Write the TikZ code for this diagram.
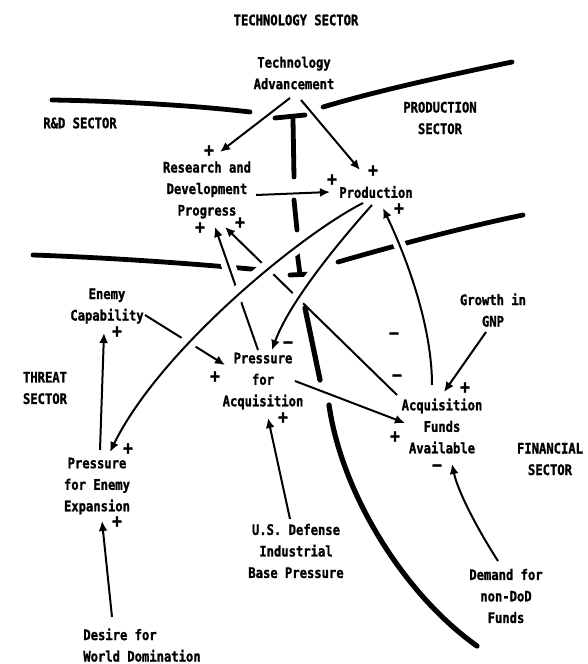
\documentclass[tikz,border=0pt]{standalone}
\usepackage{fontspec}
\newfontfamily\dotfont{DejaVu Sans Mono Bold}[FakeStretch=0.84, FakeBold=1.2]
\usetikzlibrary{arrows.meta,calc}
\tikzset{
  lbl/.style={font=\dotfont\fontsize{14.5}{21.5}\selectfont, align=center, inner sep=0pt},
  sgn/.style={font=\dotfont\fontsize{19}{20}\selectfont, inner sep=0pt},
  link/.style={line width=2pt, -{Latex[length=10pt,width=9pt]}},
  border/.style={line width=4.8pt, line cap=round},
  halo/.style={preaction={draw=white, line width=#1, -, shorten <=12pt, shorten >=12pt}}
}
\begin{document}
\begin{tikzpicture}[x=1pt, y=-1pt]
\useasboundingbox[fill=white] (0,0) rectangle (587,664);

% ---------- labels ----------
\node[lbl] (techsec) at (296,20)  {TECHNOLOGY SECTOR};
\node[lbl] (tech)    at (294,73)  {Technology\\Advancement};
\node[lbl] (rdsec)   at (80,123)  {R\&D SECTOR};
\node[lbl] (prodsec) at (440,118) {PRODUCTION\\SECTOR};
\node[lbl] (rdp)     at (207,190) {Research and\\Development\\Progress};
\node[lbl] (prod)    at (376,192) {Production};
\node[lbl] (ec)      at (107,306) {Enemy\\Capability};
\node[lbl] (threat)  at (45,388)  {THREAT\\SECTOR};
\node[lbl] (pfa)     at (263,381) {Pressure\\for\\Acquisition};
\node[lbl] (gnp)     at (493,310) {Growth in\\GNP};
\node[lbl] (afa)     at (442,426) {Acquisition\\Funds\\Available};
\node[lbl] (finsec)  at (550,459) {FINANCIAL\\SECTOR};
\node[lbl] (pee)     at (97,486)  {Pressure\\for Enemy\\Expansion};
\node[lbl] (usd)     at (296,551) {U.S. Defense\\Industrial\\Base Pressure};
\node[lbl] (dem)     at (506,596) {Demand for\\non-DoD\\Funds};
\node[lbl, align=left] (des) at (142,645) {Desire for\\World Domination};

% ---------- sector boundaries ----------
\draw[border] (52,100) .. controls (120,101) and (200,106) .. (250,112);
\draw[border] (323,107) .. controls (380,90) and (450,75) .. (512,62);
\draw[border] (275,118) -- (305,115);
\draw[border] (293,119) -- (294,177);
\draw[border] (294,200) -- (297,230);
\draw[border] (297,252) -- (300,274);
\draw[border] (290,275) -- (311,274);
\draw[border] (33,255) .. controls (120,258) and (210,265) .. (272,271);
\draw[border] (338,262) .. controls (390,247) and (460,228) .. (523,215);
\draw[border, line width=5.2pt] (305,308) -- (320,380);
\draw[border, line width=5.2pt] (329,405) .. controls (342,495) and (405,595) .. (477,646);

% ---------- causal links ----------
\draw[link] ($(tech)+(-4,25)$) -- ($(rdp)+(13,-38)$);
\draw[link] ($(tech)+(7,27)$) -- ($(prod)+(-16,-22)$);
\draw[link] ($(rdp)+(49,5)$) -- ($(prod)+(-46,0)$);
\draw[link] ($(pee)+(3,-36)$) -- ($(ec)+(-3,27)$);
\draw[link] ($(des)+(-30,-28)$) -- ($(pee)+(5,35)$);
\draw[link] ($(usd)+(-6,-32)$) -- ($(pfa)+(5,37)$);
\draw[link] ($(gnp)+(-7,22)$) -- ($(afa)+(2,-34)$);
\draw[link] ($(dem)+(-8,-35)$) .. controls (478,530) and (458,492) .. ($(afa)+(10,38)$);
\draw[link] ($(pfa)+(32,0)$) -- ($(afa)+(-37,-3)$);
\draw[link] ($(ec)+(38,9)$) -- ($(pfa)+(-38,-16)$);
\draw[link] ($(afa)+(-45,-31)$) -- ($(rdp)+(18,37)$);
\draw[link, halo=14pt] ($(pfa)+(-5,-31)$) -- ($(rdp)+(8,37)$);
\draw[link, halo=12pt] ($(afa)+(-10,-41)$) .. controls (432,330) and (410,265) .. ($(prod)+(7,16)$);
\draw[link, halo=16pt] ($(prod)+(-13,11)$) .. controls (300,235) and (160,350) .. ($(pee)+(13,-34)$);
\draw[link, halo=14pt] ($(prod)+(-4,13)$) .. controls (345,235) and (290,300) .. ($(pfa)+(9,-31)$);

% ---------- polarity signs ----------
\node[sgn] (s1)  at (209,151) {+};
\node[sgn] (s2)  at (373,171) {+};
\node[sgn] (s3)  at (332,180) {+};
\node[sgn] (s4)  at (200,228) {+};
\node[sgn] (s5)  at (240,223) {+};
\node[sgn] (s6)  at (399,209) {+};
\node[sgn] (s7)  at (215,377) {+};
\node[sgn] (s8)  at (283,418) {+};
\node[sgn] (s9)  at (117,332) {+};
\node[sgn] (s10) at (128,449) {+};
\node[sgn] (s11) at (117,522) {+};
\node[sgn] (s12) at (465,388) {+};
\node[sgn] (s13) at (395,437) {+};
\node[sgn] (m1)  at (288,345) {−};
\node[sgn] (m2)  at (437,468) {−};
\node[sgn] (m3)  at (394,336) {−};
\node[sgn] (m4)  at (397,378) {−};
\end{tikzpicture}
\end{document}
